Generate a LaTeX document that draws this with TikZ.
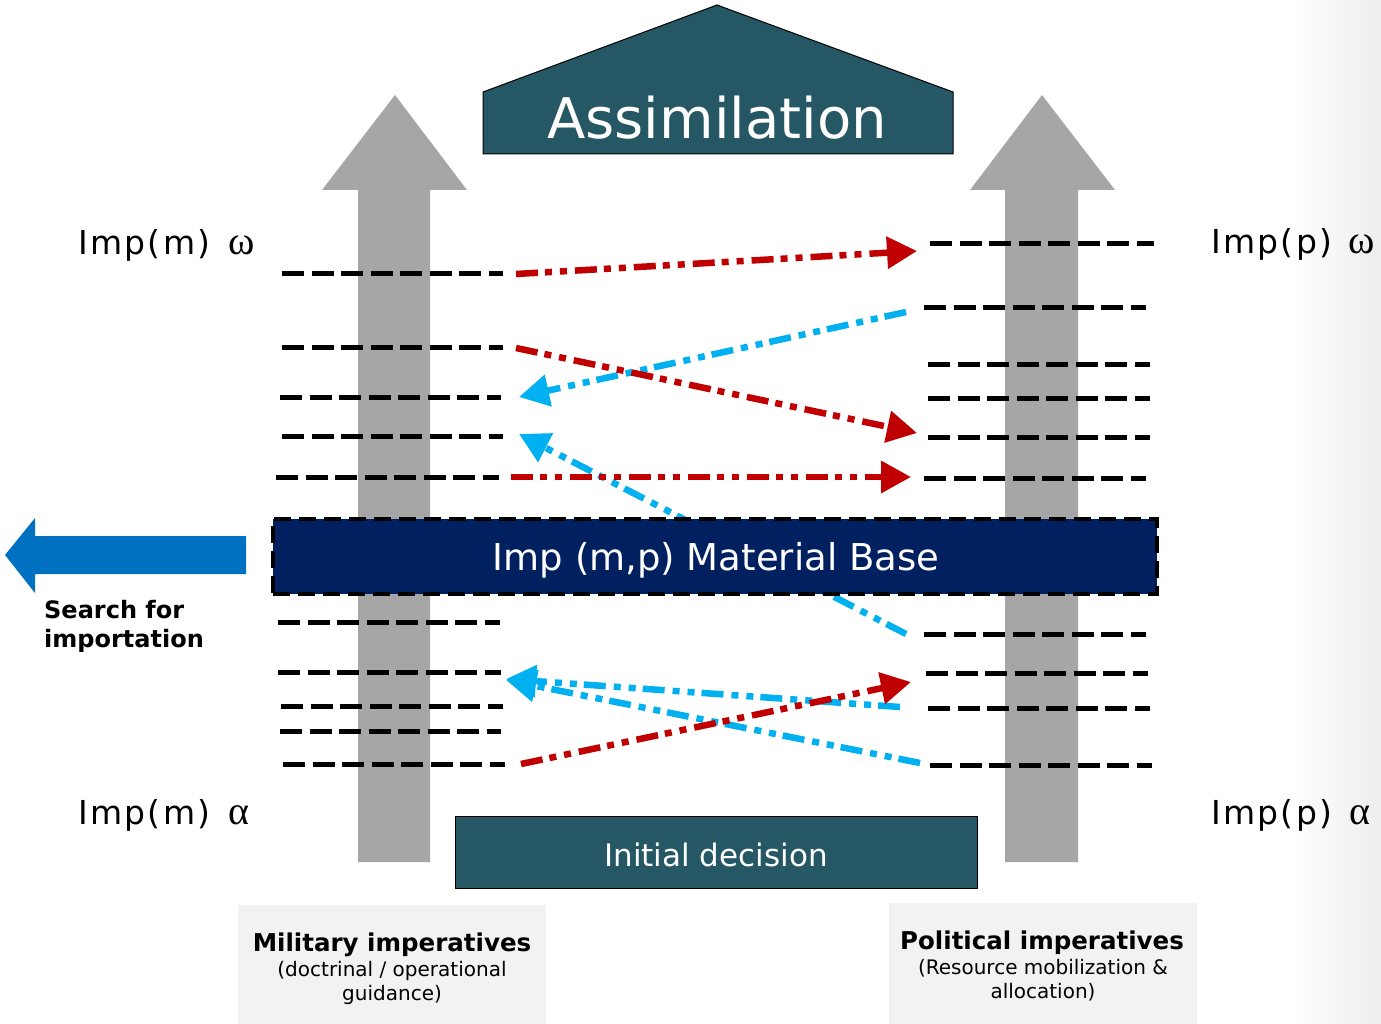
\documentclass[tikz,border=0pt]{standalone}
\usepackage{fontspec}
\setmainfont{DejaVu Sans}
\newfontfamily\spacedfont[LetterSpace=7]{DejaVu Sans}
\newfontfamily\grkfont{Liberation Serif}
\usetikzlibrary{arrows.meta}
\definecolor{housecol}{HTML}{255765}
\definecolor{navycol}{HTML}{002060}
\definecolor{redcol}{HTML}{C00000}
\definecolor{bluecol}{HTML}{00B0F0}
\definecolor{searchcol}{HTML}{0070C0}
\definecolor{graycol}{HTML}{A6A6A6}
\definecolor{boxgray}{HTML}{F2F2F2}
\begin{document}
\begin{tikzpicture}[x=1pt,y=-1pt,
  blackdash/.style={draw=black,line width=5pt,dash pattern=on 22pt off 7.5pt},
  flowline/.style={line width=6.5pt,dash pattern=on 22pt off 7pt on 7pt off 8pt on 7pt off 8pt,
     -{Triangle[length=30pt,width=31pt]}},
  redflow/.style={flowline,draw=redcol},
  blueflow/.style={flowline,draw=bluecol},
  txt/.style={inner sep=0pt,anchor=base},
  sidelabel/.style={inner sep=0pt,anchor=base west,font=\fontsize{33}{38}\selectfont\spacedfont},
  grk/.style={inner sep=0pt,anchor=base west,font=\fontsize{40}{44}\selectfont\grkfont}
]
\useasboundingbox (0,0) rectangle (1381,1024);
\fill[white] (0,0) rectangle (1381,1024);
\shade[left color=white,right color=black!7] (1290,0) rectangle (1381,1024);

% gray up arrows
\fill[graycol] (358,862) -- (358,190) -- (322,190) -- (395,95) -- (467,190) -- (430,190) -- (430,862) -- cycle;
\fill[graycol] (1005,862) -- (1005,190) -- (970,190) -- (1042,95) -- (1115,190) -- (1078,190) -- (1078,862) -- cycle;

% house
\draw[fill=housecol,line width=1pt] (483,154) -- (483,92) -- (717,5) -- (953,92) -- (953,154) -- cycle;
\node[txt,text=white,font=\fontsize{56}{64}\selectfont] (assim) at (717,139) {Assimilation};

% initial decision
\node[draw=black,line width=1pt,fill=housecol,minimum width=522pt,minimum height=72pt,inner sep=0pt] (init) at (716,852) {};
\node[txt,text=white,font=\fontsize{31}{36}\selectfont] (inittext) at (716,866) {Initial decision};

% dashed level lines (left)
\foreach \y/\a/\b in {274/282/503,347/282/503,397/280/501,436/282/503,477/276/499,622/278/500,672/278/501,706/281/503,731/280/501,764/283/505}
  \draw[blackdash] (\a,\y) -- (\b,\y);
% dashed level lines (right)
\foreach \y/\a/\b in {244/930/1154,307/924/1146,364/928/1150,398/928/1150,437/928/1150,478/924/1146,634/924/1146,673/926/1148,708/928/1150,765/930/1152}
  \draw[blackdash] (\a,\y) -- (\b,\y);

% connector endpoints
\coordinate (r1s) at (516,274); \coordinate (r1e) at (917,251);
\coordinate (r2s) at (516,348); \coordinate (r2e) at (917,433);
\coordinate (r3s) at (511,477); \coordinate (r3e) at (911,477);
\coordinate (r4s) at (521,764); \coordinate (r4e) at (911,682);
\coordinate (b1s) at (906,312); \coordinate (b1e) at (519,397);
\coordinate (b2s) at (906,634); \coordinate (b2e) at (519,434);
\coordinate (b3s) at (900,707); \coordinate (b3e) at (506,679);
\coordinate (b4s) at (920,763); \coordinate (b4e) at (506,680);

\draw[blueflow] (b1s) -- (b1e);
\draw[blueflow] (b2s) -- (b2e);
\draw[blueflow] (b3s) -- (b3e);
\draw[blueflow] (b4s) -- (b4e);
\draw[redflow] (r1s) -- (r1e);
\draw[redflow] (r2s) -- (r2e);
\draw[redflow] (r3s) -- (r3e);
\draw[redflow] (r4s) -- (r4e);

% material base
\node[draw=black,fill=navycol,line width=4.5pt,dash pattern=on 17pt off 8pt,minimum width=884pt,minimum height=75pt,inner sep=0pt] (mat) at (715,556.5) {};
\node[txt,text=white,font=\fontsize{37}{42}\selectfont] (mattext) at (716,570) {Imp (m,p) Material Base};

% search for importation
\fill[searchcol] (246,536) -- (35,536) -- (35,518) -- (5,555) -- (35,593) -- (35,574) -- (246,574) -- cycle;
\node[inner sep=0pt,anchor=base west,font=\fontsize{24}{29}\selectfont\bfseries] (search1) at (44,618) {Search for};
\node[inner sep=0pt,anchor=base west,font=\fontsize{24}{29}\selectfont\bfseries] (search2) at (44,647) {importation};

% side labels
\node[sidelabel] (mo) at (78,255) {Imp(m)};
\node[grk] (mow) at (228,255) {ω};
\node[sidelabel] (ma) at (78,824) {Imp(m)};
\node[grk] (maa) at (228,824) {α};
\node[sidelabel] (po) at (1211,254) {Imp(p)};
\node[grk] (pow) at (1348,254) {ω};
\node[sidelabel] (pa) at (1211,824) {Imp(p)};
\node[grk] (paa) at (1349,824) {α};

% bottom boxes
\fill[boxgray] (238,905) rectangle (546,1024);
\fill[boxgray] (889,903) rectangle (1197,1024);
\node[txt,font=\fontsize{24.5}{28}\selectfont\bfseries] (mil) at (392,951) {Military imperatives};
\node[txt,font=\fontsize{20}{24}\selectfont] (mil2) at (392,976) {(doctrinal / operational};
\node[txt,font=\fontsize{20}{24}\selectfont] (mil3) at (392,1000) {guidance)};
\node[txt,font=\fontsize{24.5}{28}\selectfont\bfseries] (pol) at (1042,949) {Political imperatives};
\node[txt,font=\fontsize{20}{24}\selectfont] (pol2) at (1043,974) {(Resource mobilization \&};
\node[txt,font=\fontsize{20}{24}\selectfont] (pol3) at (1043,998) {allocation)};
\end{tikzpicture}
\end{document}
